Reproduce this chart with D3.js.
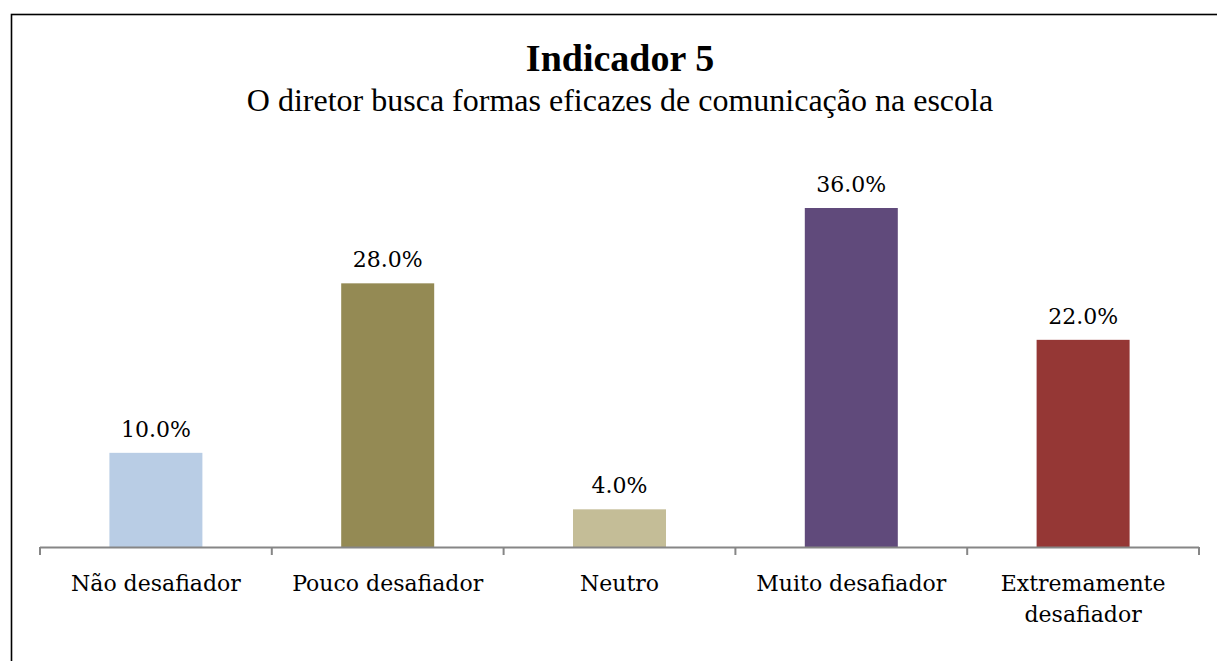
<!DOCTYPE html>
<html>
<head>
<meta charset="utf-8">
<script src="https://cdn.jsdelivr.net/npm/d3@7"></script>
<style>
  body { margin: 0; background: #fff; }
  svg { display: block; }
</style>
</head>
<body>
<div id="chart"></div>
<script>
const categories = ['Não desafiador', 'Pouco desafiador', 'Neutro', 'Muito desafiador', 'Extremamente desafiador'];
const values = [10.0, 28.0, 4.0, 36.0, 22.0];
const barColors = ['#B9CDE5', '#948A54', '#C4BD97', '#604A7B', '#953735'];
const titleText = 'Indicador 5';
const subtitleText = 'O diretor busca formas eficazes de comunicação na escola';

const svgParams = {
    width: 1217,
    height: 661,
    axisY: 547
};

const serifTitle = "'Liberation Serif', 'Times New Roman', serif";
const serifBody = "'DejaVu Serif', serif";

const svg = d3.select('#chart')
    .append('svg')
    .attr('width', svgParams.width)
    .attr('height', svgParams.height);

// outer frame
svg.append('rect')
    .attr('x', 11.5)
    .attr('y', 14.5)
    .attr('width', 1230)
    .attr('height', 700)
    .attr('fill', 'none')
    .attr('stroke', '#000')
    .attr('stroke-width', 1.6);

// titles
svg.append('text')
    .attr('x', 620)
    .attr('y', 71)
    .attr('text-anchor', 'middle')
    .style('font-family', serifTitle)
    .style('font-size', '38px')
    .style('font-weight', 'bold')
    .text(titleText);

svg.append('text')
    .attr('x', 620)
    .attr('y', 111)
    .attr('text-anchor', 'middle')
    .style('font-family', serifTitle)
    .style('font-size', '32px')
    .text(subtitleText);

const x = d3.scaleBand()
    .domain(categories)
    .range([40, 1199])
    .paddingInner(0)
    .paddingOuter(0);

const y = d3.scaleLinear()
    .domain([0, 36])
    .range([svgParams.axisY, 208]);

const barWidth = 93;

svg.append('g')
    .selectAll('rect')
    .data(categories)
    .enter().append('rect')
        .attr('x', d => x(d) + x.bandwidth() / 2 - barWidth / 2)
        .attr('y', (d, i) => y(values[i]))
        .attr('width', barWidth)
        .attr('height', (d, i) => svgParams.axisY - y(values[i]))
        .attr('fill', (d, i) => barColors[i]);

// value labels
svg.append('g')
    .selectAll('text')
    .data(categories)
    .enter().append('text')
        .attr('x', d => x(d) + x.bandwidth() / 2)
        .attr('y', (d, i) => y(values[i]) - 16)
        .attr('text-anchor', 'middle')
        .style('font-family', serifBody)
        .style('font-size', '22px')
        .attr('fill', '#000')
        .text((d, i) => values[i].toFixed(1) + '%');

// x axis
const axis = svg.append('g')
    .attr('transform', `translate(0,${svgParams.axisY})`);

axis.append('line')
    .attr('x1', 40).attr('x2', 1199)
    .attr('y1', 0.5).attr('y2', 0.5)
    .attr('stroke', '#868686')
    .attr('stroke-width', 2);

const tickPos = categories.map(d => x(d)).concat([x.range()[1]]);
axis.selectAll('.tick')
    .data(tickPos)
    .enter().append('line')
        .attr('x1', d => d).attr('x2', d => d)
        .attr('y1', 0).attr('y2', 8)
        .attr('stroke', '#868686')
        .attr('stroke-width', 2);

// category labels (wrapped)
const labelLines = {
    'Extremamente desafiador': ['Extremamente', 'desafiador']
};
const catLabels = axis.selectAll('.cat')
    .data(categories)
    .enter().append('text')
        .attr('x', d => x(d) + x.bandwidth() / 2)
        .attr('y', 44)
        .attr('text-anchor', 'middle')
        .style('font-family', serifBody)
        .style('font-size', '22px')
        .attr('fill', '#000');

catLabels.each(function(d) {
    const lines = labelLines[d] || [d];
    const t = d3.select(this);
    lines.forEach((ln, i) => {
        t.append('tspan')
            .attr('x', x(d) + x.bandwidth() / 2)
            .attr('dy', i === 0 ? 0 : 31)
            .text(ln);
    });
});
</script>
</body>
</html>
